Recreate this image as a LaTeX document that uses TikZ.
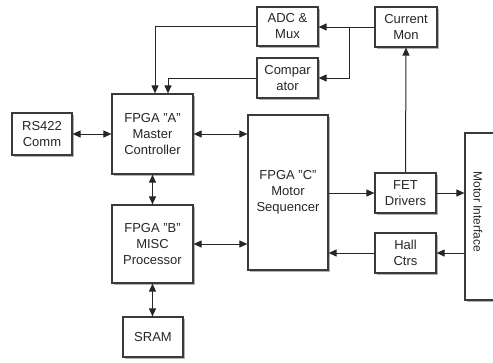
\documentclass[tikz,border=0pt]{standalone}
\usepackage{fontspec}
\setmainfont{Liberation Sans}
\usetikzlibrary{shadows,arrows.meta,calc}
\definecolor{edge}{HTML}{3A3A3A}
\begin{document}
\begin{tikzpicture}[x=1pt,y=-1pt,
  box/.style={draw=edge, line width=1.2pt, fill=white, align=center, inner sep=0pt,
    font=\fontsize{13}{16}\selectfont, text=black!85,
    drop shadow={shadow xshift=1.6pt, shadow yshift=-2.2pt, opacity=0.3, fill=black}},
  arr/.style={draw=black!85, line width=1pt, -{Triangle[length=8pt,width=7pt]}},
  darr/.style={draw=black!85, line width=1pt, {Triangle[length=8pt,width=7pt]}-{Triangle[length=8pt,width=7pt]}}]
\useasboundingbox (0,0) rectangle (493,362);
\node[box, minimum width=61, minimum height=39] (adc) at (287.5,26.5) {ADC \&\\Mux};
\node[box, minimum width=62, minimum height=40] (cm) at (406,27) {Current\\Mon};
\node[box, minimum width=61, minimum height=40] (comp) at (287.5,78) {Compar\\ator};
\node[box, minimum width=60, minimum height=42] (rs) at (42,134) {RS422\\Comm};
\node[box, minimum width=81, minimum height=80] (A) at (152.5,134) {FPGA "A"\\Master\\Controller};
\node[box, minimum width=81, minimum height=78] (B) at (152.5,244) {FPGA "B"\\MISC\\Processor};
\node[box, minimum width=60, minimum height=40] (sram) at (153,337) {SRAM};
\node[box, minimum width=80, minimum height=155] (C) at (288,192.5) {FPGA "C"\\Motor\\Sequencer};
\node[box, minimum width=61, minimum height=40] (fet) at (405.5,193) {FET\\Drivers};
\node[box, minimum width=61, minimum height=40] (hall) at (405.5,253) {Hall\\Ctrs};
\node[box, minimum width=60, minimum height=167] (mi) at (495,216.5) {};
\node[rotate=-90, font=\fontsize{12}{14}\selectfont, text=black!85] (milabel) at (478,212) {Motor Interface};
\coordinate (br) at (349,27);
\coordinate (a1) at ($(A.north)+(2.5,0)$);
\coordinate (a2) at ($(A.north)+(15.5,0)$);
\draw[arr] (cm.west) -- (cm.west -| adc.east);
\draw[arr] (br) |- (comp.east);
\draw[arr] (adc.west) -| (a1);
\draw[arr] (comp.west) -| (a2);
\draw[darr] (rs.east) -- (rs.east -| A.west);
\draw[darr] (A.east) -- (A.east -| C.west);
\draw[darr] (A.south) -- (B.north);
\draw[darr] (B.east) -- (B.east -| C.west);
\draw[darr] (B.south) -- (B.south |- sram.north);
\draw[arr] (C.east |- fet.west) -- (fet.west);
\draw[arr] (fet.east) -- (fet.east -| mi.west);
\draw[arr] (hall.east -| mi.west) -- (hall.east);
\draw[arr] (hall.west) -- (hall.west -| C.east);
\draw[arr] (fet.north) -- (cm.south);
\end{tikzpicture}
\end{document}
